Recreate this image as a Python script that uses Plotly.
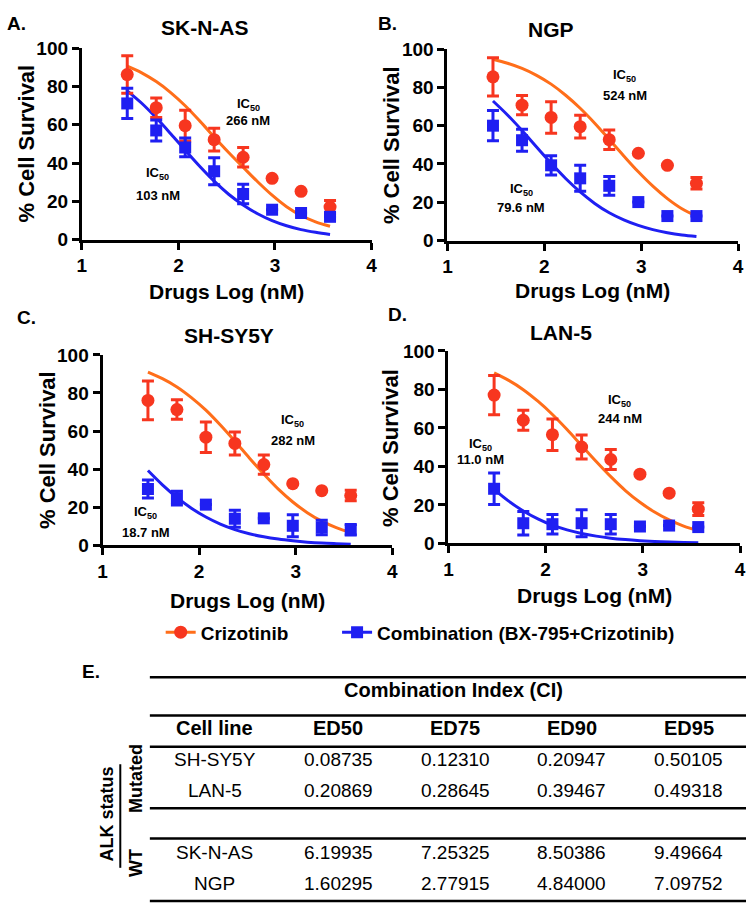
import plotly.graph_objects as go

W, H = 752, 913
FONT = "Liberation Sans, Arial, Helvetica, sans-serif"

# ---------------- data ----------------
log_dose = [1.47, 1.77, 2.07, 2.37, 2.67, 2.97, 3.27, 3.57]
fit_x = [1.47, 1.62, 1.77, 1.92, 2.07, 2.22, 2.37, 2.52, 2.67, 2.82, 2.97, 3.12, 3.27, 3.42, 3.57]

panel_letters = ["A.", "B.", "C.", "D."]
cell_titles = ["SK-N-AS", "NGP", "SH-SY5Y", "LAN-5"]
ic50_criz = ["266 nM", "524 nM", "282 nM", "244 nM"]
ic50_combo = ["103 nM", "79.6 nM", "18.7 nM", "11.0 nM"]

# SK-N-AS
sknas_criz_mean = [86.2, 68.9, 59.5, 52.2, 43.0, 32.0, 25.2, 17.0]
sknas_criz_sd = [9.8, 5.1, 8.0, 6.0, 5.1, None, None, 3.4]
sknas_combo_mean = [71.1, 57.0, 48.1, 35.7, 23.8, 15.6, 13.9, 11.9]
sknas_combo_sd = [7.9, 5.5, 4.9, 7.0, 5.1, None, None, None]
sknas_criz_fit = [90.6, 87.1, 82.5, 76.8, 69.9, 62.0, 53.6, 45.5, 37.8, 30.2, 23.2, 17.2, 12.6, 9.3, 7.0]
sknas_combo_fit = [77.7, 71.2, 63.6, 55.3, 46.7, 38.3, 30.5, 23.7, 18.1, 13.5, 9.9, 7.2, 5.2, 3.8, 2.7]

# NGP
ngp_criz_mean = [85.5, 70.7, 64.3, 59.5, 52.7, 45.6, 39.3, 29.9]
ngp_criz_sd = [10.0, 5.0, 8.2, 6.0, 5.1, None, None, 3.0]
ngp_combo_mean = [60.0, 52.4, 39.3, 32.5, 28.6, 20.1, 12.8, 12.8]
ngp_combo_sd = [7.9, 5.7, 5.0, 6.8, 4.9, None, None, None]
ngp_criz_fit = [94.7, 92.6, 89.9, 86.3, 81.7, 75.9, 69.1, 61.3, 52.8, 44.2, 35.9, 28.4, 21.9, 16.6, 12.8]
ngp_combo_fit = [72.9, 65.6, 57.5, 48.9, 40.4, 32.4, 25.4, 19.4, 14.5, 10.8, 7.9, 5.7, 4.1, 2.9, 2.1]

# SH-SY5Y
shsy5y_criz_mean = [76.1, 71.3, 56.8, 53.5, 42.4, 32.4, 28.7, 26.2]
shsy5y_criz_sd = [10.2, 5.1, 8.0, 6.0, 5.1, None, None, 2.8]
shsy5y_combo_mean = [29.6, 24.8, 21.4, 14.0, 14.2, 10.3, 9.4, 8.2]
shsy5y_combo_sd = [4.7, 3.6, None, 4.5, None, 5.8, 3.8, 2.8]
shsy5y_criz_fit = [90.9, 87.5, 83.2, 77.6, 71.0, 63.2, 54.7, 45.9, 37.4, 29.5, 22.8, 17.2, 12.7, 9.3, 6.7]
shsy5y_combo_fit = [39.3, 31.8, 25.2, 19.5, 14.9, 11.2, 8.3, 6.1, 4.5, 3.3, 2.4, 1.7, 1.2, 0.9, 0.65]

# LAN-5
lan5_criz_mean = [77.1, 64.0, 56.5, 50.1, 43.6, 36.0, 26.1, 17.8]
lan5_criz_sd = [10.2, 5.2, 8.2, 6.2, 5.2, None, None, 3.3]
lan5_combo_mean = [28.4, 10.5, 10.0, 10.5, 10.0, 8.8, 9.3, 8.5]
lan5_combo_sd = [8.2, 6.1, 5.1, 7.0, 5.1, None, None, None]
lan5_criz_fit = [88.6, 84.7, 79.9, 73.9, 67.0, 59.2, 50.9, 42.6, 34.7, 27.5, 21.4, 16.3, 12.2, 9.0, 6.6]
lan5_combo_fit = [28.1, 22.0, 16.9, 12.8, 9.5, 7.05, 5.2, 3.8, 2.75, 2.0, 1.45, 1.05, 0.76, 0.55, 0.39]

x_ticks = [1, 2, 3, 4]
y_ticks = [0, 20, 40, 60, 80, 100]

# table
table_title = "Combination Index (CI)"
table_headers = ["Cell line", "ED50", "ED75", "ED90", "ED95"]
table_cells = ["SH-SY5Y", "LAN-5", "SK-N-AS", "NGP"]
ci_ed50 = [0.08735, 0.20869, 6.19935, 1.60295]
ci_ed75 = [0.12310, 0.28645, 7.25325, 2.77915]
ci_ed90 = [0.20947, 0.39467, 8.50386, 4.84000]
ci_ed95 = [0.50105, 0.49318, 9.49664, 7.09752]
alk_group_label = "ALK status"
alk_groups = ["Mutated", "WT"]

# ---------------- styling / layout helpers ----------------
RED = "#F7361F"
ORANGE = "#FF6E1A"
BLUE = "#1F1FF2"


def px(x):
    return x / W


def py(y):
    return 1 - y / H


# pixel boxes for the four plot areas (x0, x1, ytop, ybottom)
boxes = [(78, 372, 39, 235), (449, 744, 40, 236), (99, 393, 353, 548), (450, 746, 349, 546)]

crit_means = [sknas_criz_mean, ngp_criz_mean, shsy5y_criz_mean, lan5_criz_mean]
crit_sds = [sknas_criz_sd, ngp_criz_sd, shsy5y_criz_sd, lan5_criz_sd]
combo_means = [sknas_combo_mean, ngp_combo_mean, shsy5y_combo_mean, lan5_combo_mean]
combo_sds = [sknas_combo_sd, ngp_combo_sd, shsy5y_combo_sd, lan5_combo_sd]
criz_fits = [sknas_criz_fit, ngp_criz_fit, shsy5y_criz_fit, lan5_criz_fit]
combo_fits = [sknas_combo_fit, ngp_combo_fit, shsy5y_combo_fit, lan5_combo_fit]

fig = go.Figure()
layout = dict(
    width=W, height=H, autosize=False,
    margin=dict(l=0, r=0, t=0, b=0),
    paper_bgcolor="white", plot_bgcolor="rgba(0,0,0,0)",
    font=dict(family=FONT, color="black"),
)

annotations = []
shapes = []


def ann(text, x, y, size, bold=True, angle=0, xanchor="center", yanchor="middle"):
    annotations.append(dict(
        text=(f"<b>{text}</b>" if bold else text), x=px(x), y=py(y),
        xref="paper", yref="paper", showarrow=False, textangle=angle,
        xanchor=xanchor, yanchor=yanchor,
        font=dict(family=FONT, size=size, color="black"),
    ))


for i in range(4):
    n = "" if i == 0 else str(i + 1)
    xa, ya = "x" + n, "y" + n
    x0, x1, yt, yb = boxes[i]
    axis_common = dict(
        showline=True, linewidth=3, linecolor="black", mirror=False,
        showgrid=False, zeroline=False, ticks="outside", tickwidth=3,
        tickcolor="black", tickfont=dict(family=FONT, size=19, color="black", weight="bold"),
    )
    layout["xaxis" + n] = dict(axis_common, domain=[px(x0), px(x1)], range=[1, 4],
                               tickvals=x_ticks, ticklen=7, anchor=ya)
    layout["yaxis" + n] = dict(axis_common, domain=[py(yb), py(yt)], range=[0, 100],
                               tickvals=y_ticks, ticklen=7, anchor=xa)

    # fitted curves
    fig.add_trace(go.Scatter(x=fit_x, y=criz_fits[i], mode="lines", line=dict(color=ORANGE, width=3, shape="spline"),
                             xaxis=xa, yaxis=ya, showlegend=False, hoverinfo="skip"))
    fig.add_trace(go.Scatter(x=fit_x, y=combo_fits[i], mode="lines", line=dict(color=BLUE, width=3, shape="spline"),
                             xaxis=xa, yaxis=ya, showlegend=False, hoverinfo="skip"))
    # data points
    fig.add_trace(go.Scatter(x=log_dose, y=crit_means[i], mode="markers",
                             marker=dict(color=RED, size=13, symbol="circle"),
                             error_y=dict(type="data", array=crit_sds[i], color=RED, thickness=3, width=6),
                             xaxis=xa, yaxis=ya, showlegend=False, cliponaxis=False))
    fig.add_trace(go.Scatter(x=log_dose, y=combo_means[i], mode="markers",
                             marker=dict(color=BLUE, size=12, symbol="square"),
                             error_y=dict(type="data", array=combo_sds[i], color=BLUE, thickness=3, width=6),
                             xaxis=xa, yaxis=ya, showlegend=False, cliponaxis=False))

# panel letters and titles
letter_pos = [(12, 14), (388, 14), (22, 315), (398, 312)]
title_pos = [(203, 18), (554, 20), (227, 333), (564, 330)]
ytitle_pos = [(22, 137), (393, 138), (43, 450), (391, 448)]
xtitle_pos = [(225, 288), (596, 287), (246, 604), (598, 599)]
ic_criz_pos = [(247, 95, 113), (629, 65, 88), (292, 418, 441), (624, 398, 418)]
ic_combo_pos = [(155, 165, 190), (524, 182, 202), (143, 512, 535), (483, 443, 460)]

for i in range(4):
    ann(panel_letters[i], *letter_pos[i], 19)
    ann(cell_titles[i], *title_pos[i], 21)
    ann("% Cell Survival", *ytitle_pos[i], 22, angle=-90)
    ann("Drugs Log (nM)", *xtitle_pos[i], 21)
    cx, cy1, cy2 = ic_criz_pos[i]
    ann("IC<sub>50</sub>", cx, cy1 + 2, 13)
    ann(ic50_criz[i], cx, cy2, 13)
    cx, cy1, cy2 = ic_combo_pos[i]
    ann("IC<sub>50</sub>", cx, cy1 + 2, 13)
    ann(ic50_combo[i], cx, cy2, 13)

# legend entries (legend-only traces)
fig.add_trace(go.Scatter(x=[None], y=[None], mode="lines+markers", name="<b>Crizotinib</b>",
                         line=dict(color=ORANGE, width=3), marker=dict(color=RED, size=13, symbol="circle"),
                         legend="legend"))
fig.add_trace(go.Scatter(x=[None], y=[None], mode="lines+markers", name="<b>Combination (BX-795+Crizotinib)</b>",
                         line=dict(color=BLUE, width=3), marker=dict(color=BLUE, size=12, symbol="square"),
                         legend="legend2"))
leg_common = dict(orientation="h", yanchor="middle", xanchor="left", bgcolor="rgba(0,0,0,0)",
                  font=dict(family=FONT, size=19, color="black"), itemwidth=30, borderwidth=0)
layout["legend"] = dict(leg_common, x=px(158), y=py(637))
layout["legend2"] = dict(leg_common, x=px(337), y=py(637))

# ---------------- table E ----------------
ann("E.", 87, 677, 19)
for yl in [683, 722, 754, 817, 848, 912]:
    shapes.append(dict(type="line", xref="paper", yref="paper", x0=px(147), x1=px(752),
                       y0=py(yl), y1=py(yl), line=dict(color="black", width=2.5)))
shapes.append(dict(type="line", xref="paper", yref="paper", x0=px(117), x1=px(117),
                   y0=py(772), y1=py(878), line=dict(color="black", width=2)))
ann(table_title, 455, 696, 20)
col_x = [213, 338, 457, 575, 694]
for cx, htext in zip(col_x, table_headers):
    ann(htext, cx, 735, 20)
row_y = [767, 799, 862, 894]
ci_cols = [ci_ed50, ci_ed75, ci_ed90, ci_ed95]
for r, ry in enumerate(row_y):
    ann(table_cells[r], col_x[0], ry, 19, bold=False)
    for c in range(4):
        ann(f"{ci_cols[c][r]:.5f}", col_x[c + 1], ry, 19, bold=False)
ann(alk_group_label, 104, 823, 18, angle=-90)
ann(alk_groups[0], 133, 787, 18, angle=-90)
ann(alk_groups[1], 133, 873, 18, angle=-90)

layout["annotations"] = annotations
layout["shapes"] = shapes
fig.update_layout(**layout)

fig.write_html("out.html", config={"displayModeBar": False},
               post_script="document.body.style.margin='0';")
